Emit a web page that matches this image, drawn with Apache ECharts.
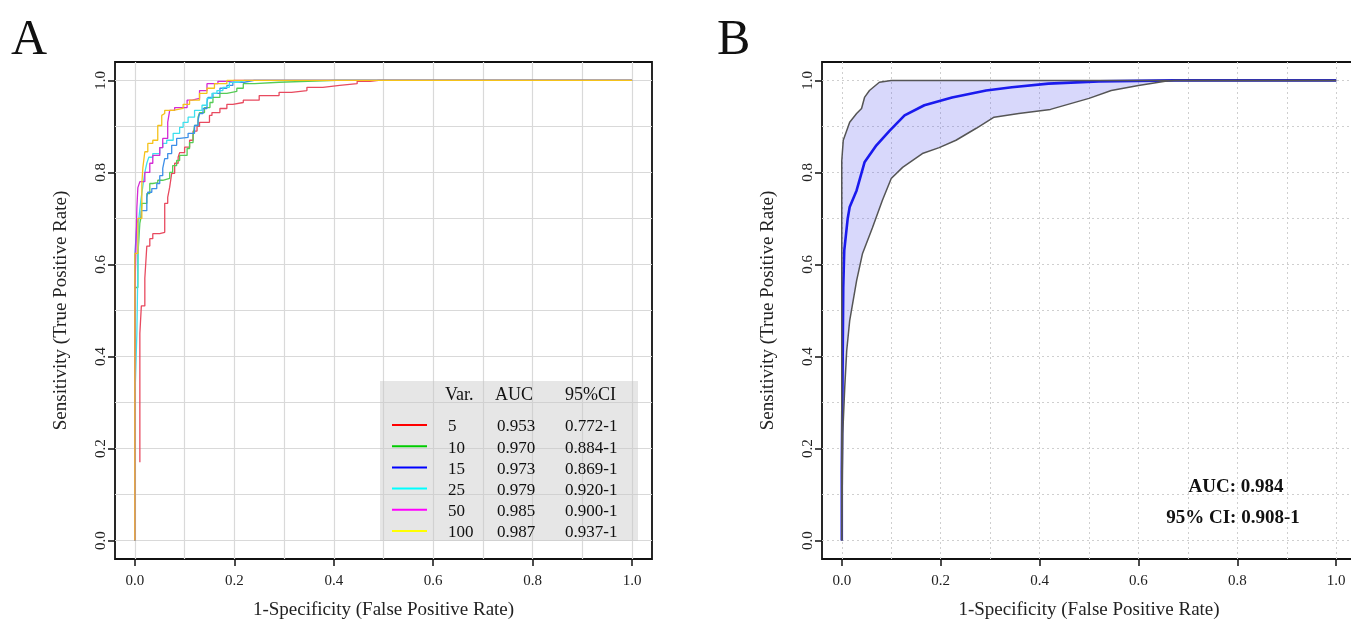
<!DOCTYPE html>
<html>
<head>
<meta charset="utf-8">
<script src="https://cdn.jsdelivr.net/npm/echarts@6/dist/echarts.min.js"></script>
<style>
html,body{margin:0;padding:0;background:#fff;}
#main{width:1351px;height:621px;}
</style>
</head>
<body>
<div id="main"></div>
<script>
// ---- panel A : ROC for different variable counts ----
var fpr5   = [0.01,0.01,0.013,0.02,0.024,0.03,0.036,0.05,0.06,0.06,0.066,0.07,0.074,0.08,0.087,0.09,0.1,0.11,0.117,0.125,0.13,0.15,0.155,0.171,0.185,0.197,0.218,0.25,0.29,0.315,0.346,0.378,0.412,0.447,0.473,0.49,1.0];
var tpr5   = [0.17,0.30,0.45,0.51,0.57,0.64,0.656,0.667,0.67,0.70,0.733,0.746,0.768,0.798,0.82,0.833,0.843,0.855,0.87,0.89,0.90,0.909,0.924,0.93,0.939,0.948,0.952,0.957,0.967,0.974,0.978,0.985,0.989,0.993,0.998,1.0,1.0];
var fpr10  = [0,0,0.006,0.01,0.012,0.014,0.024,0.03,0.036,0.046,0.056,0.07,0.076,0.084,0.09,0.105,0.11,0.117,0.12,0.127,0.13,0.14,0.151,0.157,0.171,0.185,0.205,0.218,0.241,0.29,0.406,1.0];
var tpr10  = [0,0.44,0.55,0.62,0.69,0.70,0.733,0.754,0.776,0.778,0.783,0.787,0.80,0.815,0.826,0.837,0.852,0.865,0.88,0.902,0.92,0.93,0.941,0.952,0.963,0.972,0.976,0.983,0.993,0.996,1.0,1.0];
var fpr15  = [0,0,0.004,0.008,0.013,0.024,0.026,0.034,0.044,0.05,0.056,0.06,0.066,0.074,0.084,0.09,0.107,0.12,0.127,0.13,0.137,0.145,0.147,0.157,0.171,0.185,0.197,0.22,0.24,1.0];
var tpr15  = [0,0.50,0.62,0.69,0.70,0.717,0.746,0.757,0.765,0.776,0.793,0.809,0.83,0.841,0.859,0.874,0.876,0.885,0.902,0.913,0.928,0.939,0.952,0.963,0.972,0.983,0.989,0.996,1.0,1.0];
var fpr25  = [0,0.004,0.006,0.008,0.012,0.016,0.02,0.024,0.028,0.036,0.05,0.056,0.064,0.077,0.09,0.097,0.107,0.12,0.135,0.145,0.155,0.165,0.177,0.19,0.21,0.22,1.0];
var tpr25  = [0,0.31,0.45,0.59,0.70,0.74,0.77,0.80,0.82,0.833,0.841,0.854,0.863,0.87,0.885,0.898,0.909,0.92,0.935,0.946,0.961,0.972,0.978,0.985,0.996,1.0,1.0];
var fpr50  = [0,0,0.004,0.006,0.01,0.02,0.03,0.036,0.05,0.056,0.066,0.07,0.08,0.105,0.115,0.13,0.145,0.167,0.19,0.2,1.0];
var tpr50  = [0,0.44,0.54,0.724,0.767,0.78,0.80,0.82,0.837,0.854,0.874,0.909,0.935,0.941,0.957,0.961,0.978,0.993,0.998,1.0,1.0];
var fpr100 = [0,0,0.006,0.014,0.016,0.02,0.026,0.036,0.046,0.054,0.056,0.06,0.077,0.097,0.11,0.13,0.145,0.16,0.185,0.205,1.0];
var tpr100 = [0,0.55,0.624,0.70,0.776,0.81,0.845,0.863,0.87,0.902,0.924,0.928,0.935,0.939,0.948,0.957,0.972,0.983,0.993,1.0,1.0];

var legendHead = ['Var.', 'AUC', '95%CI'];
var legendVars = ['5', '10', '15', '25', '50', '100'];
var legendAuc  = ['0.953', '0.970', '0.973', '0.979', '0.985', '0.987'];
var legendCi   = ['0.772-1', '0.884-1', '0.869-1', '0.920-1', '0.900-1', '0.937-1'];

// ---- panel B : single ROC with confidence band ----
var mainX  = [0,0,0.003,0.005,0.012,0.016,0.03,0.046,0.07,0.097,0.127,0.167,0.223,0.292,0.344,0.418,0.52,0.67,1.0];
var mainY  = [0,0.15,0.55,0.63,0.70,0.725,0.761,0.822,0.859,0.891,0.924,0.946,0.963,0.978,0.985,0.993,0.998,1.0,1.0];
var upperX = [0,0,0.003,0.016,0.03,0.04,0.046,0.056,0.076,0.1,1.0];
var upperY = [0,0.826,0.87,0.909,0.928,0.939,0.963,0.978,0.996,1.0,1.0];
var lowerX = [0,0.002,0.006,0.01,0.016,0.03,0.042,0.062,0.082,0.1,0.123,0.163,0.197,0.231,0.272,0.308,0.358,0.422,0.5,0.545,0.6,0.654,0.674,1.0];
var lowerY = [0,0.233,0.333,0.413,0.478,0.565,0.624,0.68,0.739,0.787,0.811,0.841,0.854,0.87,0.896,0.92,0.928,0.937,0.961,0.978,0.989,0.998,1.0,1.0];
var aucTextB = ['AUC: 0.984', '95% CI: 0.908-1'];

var tickVals = [0, 0.2, 0.4, 0.6, 0.8, 1.0];
var gridVals = [0, 0.1, 0.2, 0.3, 0.4, 0.5, 0.6, 0.7, 0.8, 0.9, 1.0];

var serif = 'Liberation Serif';
var curveColors  = ['#e84a5f', '#55cc55', '#3d8fe8', '#3ee0ee', '#d42ad4', '#f5c21a'];
var legendColors = ['#ff0000', '#00cc00', '#0000ff', '#00ffff', '#ff00ff', '#ffff00'];

function zip(xs, ys){
	var out = [];
	for(var i=0;i<xs.length;i++){ out.push([xs[i], ys[i]]); }
	return out;
}

function fmt(v){ return (Math.round(v*10)/10).toFixed(1); }

// main axis (ticks + labels) and a second one only for the grid lines
function axesFor(gi, dim, splitStyle){
	var name = dim=='x' ? '1-Specificity (False Positive Rate)' : 'Sensitivity (True Positive Rate)';
	var mainAxis = {
		type:'value', gridIndex:gi, min:-0.04, max:1.04,
		axisLine:{show:false, onZero:false},
		axisTick:{show:true, inside:false, length:7, customValues:tickVals, lineStyle:{color:'#111', width:1.5}},
		axisLabel:{customValues:tickVals, formatter:fmt, margin:dim=='x'?15:6, rotate:dim=='x'?0:90,
			fontFamily:serif, fontSize:15, color:'#222'},
		splitLine:{show:false},
		name:name, nameLocation:'middle', nameGap:dim=='x'?42:44,
		nameTextStyle:{fontFamily:serif, fontSize:19, color:'#222'}
	};
	var gridAxis = {
		type:'value', gridIndex:gi, min:-0.04, max:1.04,
		axisLine:{show:false, onZero:false},
		axisTick:{show:false, customValues:gridVals},
		axisLabel:{show:false},
		splitLine:{show:true, lineStyle:splitStyle}
	};
	return [mainAxis, gridAxis];
}

var solidGrid  = {color:'#d9d9d9', width:1.2, type:'solid'};
var dottedGrid = {color:'#cfcfcf', width:1, type:[2,3]};

var xAxes = axesFor(0,'x',solidGrid).concat(axesFor(1,'x',dottedGrid));
var yAxes = axesFor(0,'y',solidGrid).concat(axesFor(1,'y',dottedGrid));

var seriesA = [];
var fprs = [fpr5, fpr10, fpr15, fpr25, fpr50, fpr100];
var tprs = [tpr5, tpr10, tpr15, tpr25, tpr50, tpr100];
for(var k=0;k<fprs.length;k++){
	seriesA.push({
		name:legendVars[k], type:'line', xAxisIndex:0, yAxisIndex:0,
		data:zip(fprs[k], tprs[k]), step:'start', symbol:'none', silent:true,
		lineStyle:{color:curveColors[k], width:1.3}, z:3
	});
}

var bandSeries = {
	type:'custom', xAxisIndex:2, yAxisIndex:2, silent:true, z:2,
	data:[[0,0]],
	renderItem:function(params, api){
		var pts = [];
		for(var i=0;i<upperX.length;i++){ pts.push(api.coord([upperX[i], upperY[i]])); }
		for(var j=lowerX.length-1;j>=0;j--){ pts.push(api.coord([lowerX[j], lowerY[j]])); }
		return {type:'polygon', shape:{points:pts}, style:{fill:'rgba(100,100,240,0.25)'}};
	}
};

var seriesB = [
	bandSeries,
	{type:'line', xAxisIndex:2, yAxisIndex:2, data:zip(mainX, mainY), symbol:'none', silent:true,
		lineStyle:{color:'#1a1aee', width:2.6}, z:3},
	{type:'line', xAxisIndex:2, yAxisIndex:2, data:zip(upperX, upperY), symbol:'none', silent:true,
		lineStyle:{color:'#555', width:1.5}, z:4},
	{type:'line', xAxisIndex:2, yAxisIndex:2, data:zip(lowerX, lowerY), symbol:'none', silent:true,
		lineStyle:{color:'#555', width:1.5}, z:4}
];

// legend table drawn as graphic
var graphics = [
	{type:'text', left:11, top:16, style:{text:'A', font:'50px "Liberation Serif"', fill:'#111'}},
	{type:'text', left:717, top:16, style:{text:'B', font:'50px "Liberation Serif"', fill:'#111'}},
	{type:'rect', shape:{x:380, y:381, width:258, height:160}, style:{fill:'rgba(200,200,200,0.45)'}, z:5}
];
var headX = [445, 495, 565];
for(var h=0;h<legendHead.length;h++){
	graphics.push({type:'text', x:headX[h], y:395, z:6,
		style:{text:legendHead[h], font:'18px "Liberation Serif"', fill:'#111', verticalAlign:'middle'}});
}
for(var r=0;r<legendVars.length;r++){
	var ry = 425 + r*21.2;
	graphics.push({type:'line', z:6, shape:{x1:392, y1:ry, x2:427, y2:ry}, style:{stroke:legendColors[r], lineWidth:2}});
	graphics.push({type:'text', x:448, y:ry+2, z:6, style:{text:legendVars[r], font:'17px "Liberation Serif"', fill:'#111', verticalAlign:'middle'}});
	graphics.push({type:'text', x:497, y:ry+2, z:6, style:{text:legendAuc[r], font:'17px "Liberation Serif"', fill:'#111', verticalAlign:'middle'}});
	graphics.push({type:'text', x:565, y:ry+2, z:6, style:{text:legendCi[r], font:'17px "Liberation Serif"', fill:'#111', verticalAlign:'middle'}});
}
graphics.push({type:'text', x:1236, y:487, z:6, style:{text:aucTextB[0], font:'bold 19px "Liberation Serif"', fill:'#111', align:'center', verticalAlign:'middle'}});
graphics.push({type:'text', x:1233, y:518, z:6, style:{text:aucTextB[1], font:'bold 19px "Liberation Serif"', fill:'#111', align:'center', verticalAlign:'middle'}});

var chart = echarts.init(document.getElementById('main'));
var option = {
	animation:false,
	backgroundColor:'#fff',
	grid:[
		{left:115, top:62, width:537, height:497, show:true, borderColor:'#111', borderWidth:1.8,
			containLabel:false, outerBoundsMode:'none'},
		{left:822, top:62, width:534, height:497, show:true, borderColor:'#111', borderWidth:1.8,
			containLabel:false, outerBoundsMode:'none'}
	],
	xAxis:xAxes,
	yAxis:yAxes,
	series:seriesA.concat(seriesB),
	graphic:graphics
};
chart.setOption(option);
</script>
</body>
</html>
